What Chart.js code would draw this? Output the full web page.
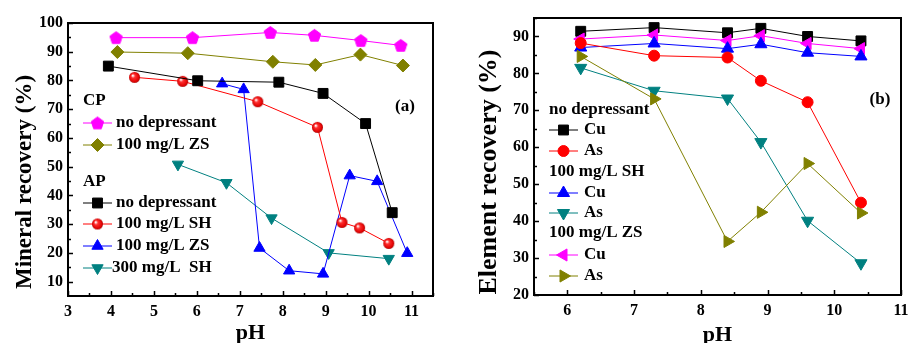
<!DOCTYPE html>
<html>
<head>
<meta charset="utf-8">
<script src="https://cdn.jsdelivr.net/npm/chart.js@4/dist/chart.umd.min.js"></script>
<style>
  body { margin: 0; background: #fff; }
  #wrap { position: relative; width: 909px; height: 343px; }
  #chartA { position: absolute; left: 0; top: 0; }
  #chartB { position: absolute; left: 455px; top: 0; }
</style>
</head>
<body>
<div id="wrap">
  <canvas id="chartA" width="455" height="343"></canvas>
  <canvas id="chartB" width="454" height="343"></canvas>
</div>
<script>
// ---- panel (a): mineral recovery vs pH ----
var cpNoDepX = [4.12, 5.90, 7.71, 8.74, 9.82, 10.75];
var cpNoDepY = [94.9, 94.9, 96.7, 95.7, 93.9, 92.2];
var cpZsX = [4.15, 5.79, 7.77, 8.76, 9.81, 10.80];
var cpZsY = [89.9, 89.5, 86.5, 85.4, 89.0, 85.2];
var apNoDepX = [3.94, 6.02, 7.91, 8.94, 9.93, 10.55];
var apNoDepY = [85.0, 79.9, 79.4, 75.5, 65.0, 34.0];
var apSh100X = [4.55, 5.67, 7.42, 8.81, 9.38, 9.79, 10.47];
var apSh100Y = [81.1, 79.7, 72.6, 63.7, 30.6, 28.7, 23.3];
var apZsX = [6.59, 7.09, 7.46, 8.15, 8.94, 9.56, 10.20, 10.90];
var apZsY = [78.9, 76.9, 21.7, 13.8, 12.7, 46.9, 44.9, 19.9];
var apSh300X = [5.56, 6.69, 7.74, 9.07, 10.47];
var apSh300Y = [50.8, 44.4, 32.1, 20.0, 18.0];

// ---- panel (b): element recovery vs pH ----
var phB = [6.2, 7.3, 8.4, 8.9, 9.6, 10.4];
var cuNoDep = [91.4, 92.4, 91.0, 92.2, 90.0, 88.8];
var asNoDep = [88.2, 84.8, 84.3, 78.0, 72.2, 45.0];
var cuSh = [87.0, 88.1, 86.7, 87.9, 85.6, 84.6];
var asSh = [81.5, 75.3, 73.2, 61.4, 40.1, 28.6];
var cuZs = [89.3, 90.4, 88.9, 90.2, 88.1, 86.7];
var asZs = [84.6, 73.1, 34.5, 42.4, 55.6, 42.2];

var legendA = ['CP', 'no depressant', '100 mg/L ZS', 'AP', 'no depressant', '100 mg/L SH', '100 mg/L ZS', '300 mg/L  SH'];
var legendB = ['no depressant', 'Cu', 'As', '100 mg/L SH', 'Cu', 'As', '100 mg/L ZS', 'Cu', 'As'];

var FONT = '"Liberation Serif", "Times New Roman", serif';
Chart.defaults.font.family = FONT;
Chart.defaults.font.weight = 'bold';
Chart.defaults.font.size = 16;
Chart.defaults.color = '#000';

function pts(xs, ys) {
  var out = [];
  for (var i = 0; i < xs.length; i++) out.push({x: xs[i], y: ys[i]});
  return out;
}

// custom markers
function pentagon(color, r) {
  var c = document.createElement('canvas');
  var s = Math.ceil(r * 2 + 2);
  c.width = s; c.height = s;
  var g = c.getContext('2d');
  g.beginPath();
  for (var i = 0; i < 5; i++) {
    var a = -Math.PI / 2 + i * 2 * Math.PI / 5;
    var px = s / 2 + r * Math.cos(a), py = s / 2 + 0.5 + r * Math.sin(a);
    if (i == 0) g.moveTo(px, py); else g.lineTo(px, py);
  }
  g.closePath();
  g.fillStyle = color; g.fill();
  g.strokeStyle = color; g.lineWidth = 1; g.stroke();
  return c;
}
function ball(r) {
  var c = document.createElement('canvas');
  var s = Math.ceil(r * 2 + 2);
  c.width = s; c.height = s;
  var g = c.getContext('2d');
  var grad = g.createRadialGradient(s / 2 - r * 0.35, s / 2 - r * 0.35, 0.5, s / 2, s / 2, r);
  grad.addColorStop(0, '#ffffff');
  grad.addColorStop(0.3, '#ff3030');
  grad.addColorStop(0.85, '#e00000');
  grad.addColorStop(1, '#a00000');
  g.beginPath(); g.arc(s / 2, s / 2, r, 0, Math.PI * 2);
  g.fillStyle = grad; g.fill();
  return c;
}

function ds(data, color, style, radius, rot) {
  return {
    data: data, showLine: true,
    borderColor: color, backgroundColor: color, borderWidth: 1,
    pointStyle: style, pointRadius: radius, pointHoverRadius: radius,
    pointRotation: rot || 0, pointBorderWidth: 1
  };
}

// frame, inward ticks, titles, legend and panel label
var deco = {
  id: 'deco',
  afterDraw: function(chart, args, o) {
    var ctx = chart.ctx, a = chart.chartArea;
    var xs = chart.scales.x, ys = chart.scales.y;
    ctx.save();
    ctx.strokeStyle = '#000';
    ctx.lineWidth = 1.5;
    ctx.beginPath();
    // x ticks
    for (var v = o.xMinorStart; v <= xs.max + 1e-9; v += 0.5) {
      var px = Math.round(xs.getPixelForValue(v)) + 0.5;
      var major = Math.abs(v - Math.round(v)) < 1e-6;
      ctx.moveTo(px, a.bottom); ctx.lineTo(px, a.bottom - (major ? 5 : 3));
    }
    for (var w = o.yMinorStart; w <= ys.max + 1e-9; w += 5) {
      var py = Math.round(ys.getPixelForValue(w)) + 0.5;
      var maj = w % 10 === 0;
      ctx.moveTo(a.left, py); ctx.lineTo(a.left + (maj ? 5 : 3), py);
    }
    ctx.stroke();
    ctx.lineWidth = 2;
    ctx.strokeRect(a.left, a.top, a.right - a.left, a.bottom - a.top);

    // axis titles
    ctx.fillStyle = '#000';
    ctx.textAlign = 'center';
    ctx.textBaseline = 'middle';
    ctx.font = 'bold 22px ' + FONT;
    ctx.fillText('pH', (a.left + a.right) / 2, o.xTitleY);
    ctx.save();
    ctx.translate(o.yTitleX, o.yTitleY);
    ctx.rotate(-Math.PI / 2);
    ctx.font = 'bold ' + o.yTitleSize + 'px ' + FONT;
    ctx.fillText(o.yTitle, 0, 0);
    ctx.restore();

    // panel label
    ctx.font = 'bold 17px ' + FONT;
    ctx.fillText(o.panel, o.panelX, o.panelY);

    // legend
    ctx.textAlign = 'left';
    o.legend.forEach(function(it) {
      ctx.fillStyle = '#000';
      if (it.ds === undefined) {
        ctx.fillText(it.text, o.lgX1, it.y);
        return;
      }
      var d = chart.data.datasets[it.ds];
      ctx.strokeStyle = d.borderColor; ctx.lineWidth = 1;
      ctx.beginPath(); ctx.moveTo(o.lgX1, it.y); ctx.lineTo(o.lgX2, it.y); ctx.stroke();
      ctx.fillStyle = d.backgroundColor; ctx.strokeStyle = d.borderColor;
      Chart.helpers.drawPoint(ctx, {pointStyle: d.pointStyle, radius: d.pointRadius, rotation: d.pointRotation, borderWidth: 1}, (o.lgX1 + o.lgX2) / 2, it.y);
      ctx.fillStyle = '#000';
      ctx.fillText(it.text, it.tx || o.lgTx, it.y);
    });
    ctx.restore();
  }
};

function axes(xmin, xmax, ymin, ymax, yw, xh) {
  return {
    x: {
      type: 'linear', min: xmin, max: xmax,
      grid: {display: false, drawTicks: false},
      border: {display: true, color: '#000', width: 2},
      ticks: {stepSize: 1, includeBounds: false, padding: 6, maxRotation: 0, font: {size: 16, weight: 'bold'}},
      afterFit: function(s) { s.height = xh; s.paddingLeft = 0; s.paddingRight = 0; }
    },
    y: {
      type: 'linear', min: ymin, max: ymax,
      grid: {display: false, drawTicks: false},
      border: {display: true, color: '#000', width: 2},
      ticks: {stepSize: 10, includeBounds: false, padding: 5, font: {size: 16, weight: 'bold'}},
      afterFit: function(s) { s.width = yw; s.paddingTop = 0; s.paddingBottom = 0; }
    }
  };
}

new Chart(document.getElementById('chartA'), {
  type: 'scatter',
  data: {
    datasets: [
      ds(pts(cpNoDepX, cpNoDepY), '#ff00ff', pentagon('#ff00ff', 6.5), 7),
      ds(pts(cpZsX, cpZsY), '#808000', 'rectRot', 6.5),
      ds(pts(apNoDepX, apNoDepY), '#000000', 'rect', 7),
      ds(pts(apSh100X, apSh100Y), '#ff0000', ball(5.5), 6),
      ds(pts(apZsX, apZsY), '#0000ff', 'triangle', 6.5),
      ds(pts(apSh300X, apSh300Y), '#008080', 'triangle', 6.5, 180)
    ]
  },
  options: {
    responsive: false, animation: false,
    layout: {padding: {top: 23, right: 22, left: 0, bottom: 0}},
    plugins: {
      legend: {display: false}, tooltip: {enabled: false},
      deco: {
        xMinorStart: 3, yMinorStart: 10,
        xTitleY: 333, yTitle: 'Mineral recovery (%)', yTitleX: 25, yTitleY: 182, yTitleSize: 23,
        panel: '(a)', panelX: 405, panelY: 107,
        lgX1: 83, lgX2: 112, lgTx: 116,
        legend: [
          {text: legendA[0], y: 101},
          {text: legendA[1], y: 123, ds: 0},
          {text: legendA[2], y: 145, ds: 1},
          {text: legendA[3], y: 182},
          {text: legendA[4], y: 203, ds: 2},
          {text: legendA[5], y: 224, ds: 3},
          {text: legendA[6], y: 246, ds: 4},
          {text: legendA[7], y: 268, ds: 5, tx: 112}
        ]
      }
    },
    scales: axes(3, 11.5, 5, 100, 68, 47)
  },
  plugins: [deco]
});

new Chart(document.getElementById('chartB'), {
  type: 'scatter',
  data: {
    datasets: [
      ds(pts(phB, asZs), '#808000', 'triangle', 7, 90),
      ds(pts(phB, asSh), '#008080', 'triangle', 7, 180),
      ds(pts(phB, asNoDep), '#ff0000', 'circle', 5.5),
      ds(pts(phB, cuSh), '#0000ff', 'triangle', 7),
      ds(pts(phB, cuZs), '#ff00ff', 'triangle', 7, -90),
      ds(pts(phB, cuNoDep), '#000000', 'rect', 7)
    ]
  },
  options: {
    responsive: false, animation: false,
    layout: {padding: {top: 18, right: 5, left: 0, bottom: 0}},
    plugins: {
      legend: {display: false}, tooltip: {enabled: false},
      deco: {
        xMinorStart: 5.5, yMinorStart: 20,
        xTitleY: 335, yTitle: 'Element recovery (%)', yTitleX: 34, yTitleY: 172, yTitleSize: 26,
        panel: '(b)', panelX: 425, panelY: 100,
        lgX1: 94, lgX2: 123, lgTx: 129,
        legend: [
          {text: legendB[0], y: 110},
          {text: legendB[1], y: 130, ds: 5},
          {text: legendB[2], y: 151, ds: 2},
          {text: legendB[3], y: 172},
          {text: legendB[4], y: 193, ds: 3},
          {text: legendB[5], y: 213, ds: 1},
          {text: legendB[6], y: 233},
          {text: legendB[7], y: 255, ds: 4},
          {text: legendB[8], y: 276, ds: 0}
        ]
      }
    },
    scales: axes(5.5, 11, 20, 95, 79, 48)
  },
  plugins: [deco]
});
</script>
</body>
</html>
